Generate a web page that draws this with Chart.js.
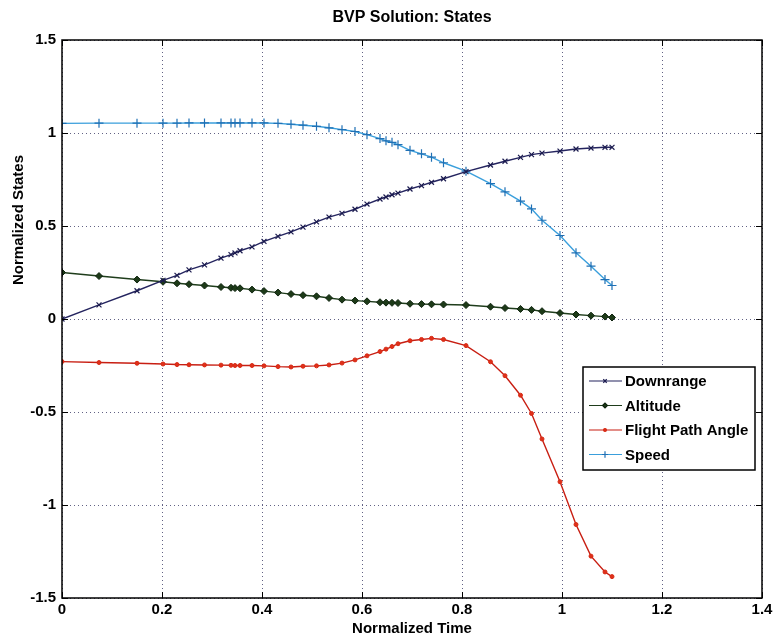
<!DOCTYPE html>
<html>
<head>
<meta charset="utf-8">
<script src="https://cdn.jsdelivr.net/npm/chart.js@4.4.0/dist/chart.umd.min.js"></script>
<style>
  html, body { margin: 0; padding: 0; background: #fff; }
  #wrap { width: 776px; height: 642px; }
</style>
</head>
<body>
<div id="wrap"><canvas id="bvpChart" width="776" height="642"></canvas></div>
<script>
// collocation mesh (normalized time) and the four states
const timePts = [0, 0.074, 0.150, 0.202, 0.230, 0.254, 0.285, 0.318, 0.338, 0.346,
  0.356, 0.380, 0.404, 0.432, 0.458, 0.482, 0.509, 0.534, 0.560, 0.586,
  0.610, 0.636, 0.648, 0.660, 0.672, 0.696, 0.719, 0.739, 0.763, 0.808,
  0.857, 0.886, 0.917, 0.939, 0.960, 0.996, 1.028, 1.058, 1.086, 1.100];
const downrange = [0, 0.076, 0.152, 0.208, 0.235, 0.264, 0.291, 0.327, 0.346, 0.355,
  0.367, 0.388, 0.417, 0.444, 0.468, 0.494, 0.522, 0.548, 0.568, 0.590,
  0.618, 0.645, 0.656, 0.668, 0.677, 0.699, 0.717, 0.735, 0.754, 0.792,
  0.828, 0.848, 0.869, 0.884, 0.892, 0.903, 0.914, 0.919, 0.923, 0.923];
const altitude = [0.250, 0.231, 0.212, 0.200, 0.192, 0.187, 0.180, 0.172, 0.168, 0.166,
  0.165, 0.158, 0.150, 0.142, 0.134, 0.128, 0.122, 0.113, 0.104, 0.099,
  0.095, 0.090, 0.088, 0.087, 0.086, 0.082, 0.080, 0.079, 0.078, 0.075,
  0.066, 0.059, 0.054, 0.049, 0.042, 0.032, 0.024, 0.018, 0.013, 0.008];
const flightPathAngle = [-0.229, -0.234, -0.238, -0.242, -0.245, -0.246, -0.247, -0.248, -0.249, -0.250,
  -0.250, -0.250, -0.252, -0.256, -0.258, -0.254, -0.252, -0.247, -0.237, -0.220,
  -0.198, -0.175, -0.162, -0.148, -0.133, -0.117, -0.110, -0.104, -0.110, -0.143,
  -0.230, -0.305, -0.410, -0.508, -0.645, -0.875, -1.105, -1.275, -1.360, -1.385];
const speed = [1.052, 1.053, 1.053, 1.053, 1.053, 1.054, 1.054, 1.054, 1.054, 1.054,
  1.054, 1.054, 1.054, 1.052, 1.047, 1.042, 1.036, 1.028, 1.018, 1.008,
  0.991, 0.970, 0.958, 0.950, 0.937, 0.907, 0.888, 0.870, 0.840, 0.795,
  0.728, 0.684, 0.634, 0.592, 0.531, 0.449, 0.356, 0.284, 0.212, 0.180];

const seriesNames = ['Downrange', 'Altitude', 'Flight Path Angle', 'Speed'];
const xTicks = [0, 0.2, 0.4, 0.6, 0.8, 1, 1.2, 1.4];
const yTicks = [-1.5, -1, -0.5, 0, 0.5, 1, 1.5];

const FONT = '"Liberation Sans", Arial, Helvetica, sans-serif';
const GRID = 'rgba(70,70,110,0.85)';

function toPoints(vals) {
    return timePts.map((t, i) => ({ x: t, y: vals[i] }));
}

// frame, inward ticks, title, y label and the boxed legend (MATLAB look)
const matlabFrame = {
    id: 'matlabFrame',
    afterDraw(chart) {
        const ctx = chart.ctx;
        const a = chart.chartArea;
        const xs = chart.scales.x, ys = chart.scales.y;
        ctx.save();
        ctx.strokeStyle = '#000';
        ctx.lineWidth = 1.5;
        ctx.strokeRect(a.left, a.top, a.right - a.left, a.bottom - a.top);

        ctx.lineWidth = 1;
        ctx.beginPath();
        xTicks.forEach(v => {
            const px = Math.round(xs.getPixelForValue(v)) + 0.5;
            ctx.moveTo(px, a.bottom); ctx.lineTo(px, a.bottom - 6);
            ctx.moveTo(px, a.top); ctx.lineTo(px, a.top + 6);
        });
        yTicks.forEach(v => {
            const py = Math.round(ys.getPixelForValue(v)) + 0.5;
            ctx.moveTo(a.left, py); ctx.lineTo(a.left + 6, py);
            ctx.moveTo(a.right, py); ctx.lineTo(a.right - 6, py);
        });
        ctx.stroke();

        // title
        ctx.fillStyle = '#000';
        ctx.font = 'bold 16px ' + FONT;
        ctx.textAlign = 'center';
        ctx.textBaseline = 'middle';
        ctx.fillText('BVP Solution: States', (a.left + a.right) / 2, 18);

        // y axis label
        ctx.save();
        ctx.translate(19, 220);
        ctx.rotate(-Math.PI / 2);
        ctx.font = 'bold 15px ' + FONT;
        ctx.fillText('Normalized States', 0, 0);
        ctx.restore();

        // legend
        const lx = 583, ly = 367, lw = 172, lh = 103;
        ctx.fillStyle = '#fff';
        ctx.fillRect(lx, ly, lw, lh);
        ctx.strokeStyle = '#000';
        ctx.lineWidth = 1.5;
        ctx.strokeRect(lx, ly, lw, lh);
        ctx.font = 'bold 15px ' + FONT;
        ctx.textAlign = 'left';
        chart.data.datasets.forEach((ds, i) => {
            const cy = ly + 14 + i * 24.5;
            ctx.strokeStyle = ds.borderColor;
            ctx.lineWidth = 1.2;
            ctx.beginPath();
            ctx.moveTo(lx + 6, cy); ctx.lineTo(lx + 39, cy);
            ctx.stroke();
            ctx.strokeStyle = ds.pointBorderColor;
            ctx.fillStyle = ds.pointBackgroundColor;
            Chart.helpers.drawPoint(ctx, {
                pointStyle: ds.pointStyle,
                radius: ds.pointRadius * 0.7,
                borderWidth: 1,
                rotation: 0
            }, lx + 22, cy);
            ctx.fillStyle = '#000';
            ctx.fillText(ds.label, lx + 42, cy + 1);
        });
        ctx.restore();
    }
};

const ctx = document.getElementById('bvpChart').getContext('2d');

new Chart(ctx, {
    type: 'line',
    data: {
        datasets: [
            {
                label: seriesNames[0],
                data: toPoints(downrange),
                borderColor: '#24245f',
                borderWidth: 1.4,
                pointStyle: 'crossRot',
                pointRadius: 3.5,
                pointBorderColor: '#1b1b4f',
                pointBackgroundColor: '#1b1b4f',
                pointBorderWidth: 1.2
            },
            {
                label: seriesNames[1],
                data: toPoints(altitude),
                borderColor: '#1f3d1c',
                borderWidth: 1.4,
                pointStyle: 'rectRot',
                pointRadius: 3.5,
                pointBorderColor: '#102510',
                pointBackgroundColor: '#1d3a18',
                pointBorderWidth: 1
            },
            {
                label: seriesNames[2],
                data: toPoints(flightPathAngle),
                borderColor: '#c81e12',
                borderWidth: 1.4,
                pointStyle: 'circle',
                pointRadius: 2,
                pointBorderColor: '#d62a14',
                pointBackgroundColor: '#e0301a',
                pointBorderWidth: 1
            },
            {
                label: seriesNames[3],
                data: toPoints(speed),
                borderColor: '#3a9fdc',
                borderWidth: 1.4,
                pointStyle: 'cross',
                pointRadius: 4.5,
                pointBorderColor: '#1f70b5',
                pointBackgroundColor: '#1f70b5',
                pointBorderWidth: 1.2
            }
        ]
    },
    options: {
        responsive: false,
        devicePixelRatio: 1,
        animation: false,
        layout: { padding: { top: 40, right: 14, left: 0, bottom: 0 } },
        elements: { line: { tension: 0 } },
        plugins: {
            legend: { display: false },
            tooltip: { enabled: false },
            title: { display: false }
        },
        scales: {
            x: {
                type: 'linear',
                min: 0,
                max: 1.4,
                afterBuildTicks: s => { s.ticks = xTicks.map(v => ({ value: v })); },
                afterFit: s => { s.height = 44; },
                ticks: {
                    callback: v => String(v),
                    color: '#000',
                    font: { family: FONT, size: 15, weight: 'bold' },
                    padding: 3,
                    maxRotation: 0,
                    autoSkip: false
                },
                grid: { color: GRID, lineWidth: 1, drawTicks: false },
                border: { display: false, dash: [1, 3] },
                title: {
                    display: true,
                    text: 'Normalized Time',
                    color: '#000',
                    font: { family: FONT, size: 15, weight: 'bold' },
                    padding: { top: 0, bottom: 4 }
                }
            },
            y: {
                type: 'linear',
                min: -1.5,
                max: 1.5,
                afterBuildTicks: s => { s.ticks = yTicks.map(v => ({ value: v })); },
                afterFit: s => { s.width = 62; },
                ticks: {
                    callback: v => String(v),
                    color: '#000',
                    font: { family: FONT, size: 15, weight: 'bold' },
                    padding: 6
                },
                grid: { color: GRID, lineWidth: 1, drawTicks: false },
                border: { display: false, dash: [1, 3] }
            }
        }
    },
    plugins: [matlabFrame]
});
</script>
</body>
</html>
